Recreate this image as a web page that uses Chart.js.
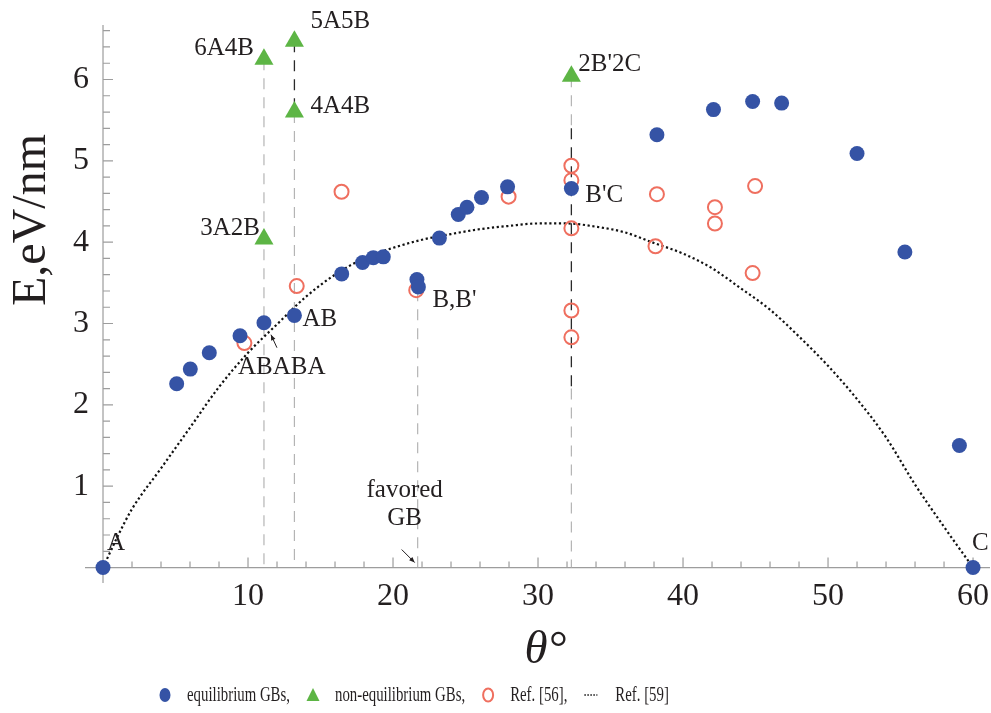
<!DOCTYPE html>
<html>
<head>
<meta charset="utf-8">
<script src="https://cdn.jsdelivr.net/npm/chart.js@4.4.1/dist/chart.umd.min.js"></script>
<style>
  html, body { margin: 0; padding: 0; background: #fff; overflow: hidden; }
  #wrap { width: 991px; height: 713px; position: relative; }
  #gb { display: block; }
</style>
</head>
<body>
<div id="wrap"><canvas id="gb"></canvas></div>
<script>
// misorientation angle (deg) and boundary energy (eV/nm)
const eqTheta  = [0, 5.08, 6.02, 7.33, 9.45, 11.1, 13.2, 16.46, 17.9, 18.64, 19.33, 21.65, 21.75,
                  23.2, 24.5, 25.1, 26.1, 27.9, 32.3, 38.2, 42.1, 44.8, 46.8, 52.0, 55.3, 59.06, 60];
const eqEnergy = [0, 2.26, 2.44, 2.64, 2.85, 3.01, 3.10, 3.61, 3.75, 3.81, 3.82, 3.54, 3.45,
                  4.05, 4.34, 4.43, 4.55, 4.68, 4.66, 5.32, 5.63, 5.73, 5.71, 5.09, 3.88, 1.50, 0];

const neqTheta  = [11.1, 13.2, 13.2, 11.1, 32.3];
const neqEnergy = [6.25, 6.47, 5.60, 4.04, 6.04];

const ref56Theta  = [9.75, 13.36, 16.45, 21.6, 27.97, 32.3, 32.3, 32.3, 32.3, 32.3,
                     38.2, 38.1, 42.2, 42.2, 44.97, 44.8];
const ref56Energy = [2.76, 3.46, 4.62, 3.41, 4.56, 4.94, 4.76, 4.17, 3.16, 2.83,
                     4.59, 3.95, 4.43, 4.23, 4.69, 3.62];

const ref59Theta  = [0, 1, 2, 4, 6, 8, 10, 12, 14, 16, 18, 20, 22, 24, 26, 28, 30,
                     32, 34, 36, 38, 40, 42, 44, 46, 48, 50, 52, 54, 56, 58, 60];
const ref59Energy = [0, 0.38, 0.72, 1.22, 1.72, 2.22, 2.64, 2.99, 3.33, 3.60, 3.80, 3.93, 4.03, 4.10, 4.16, 4.20, 4.23,
                     4.23, 4.19, 4.12, 3.99, 3.86, 3.68, 3.43, 3.17, 2.84, 2.48, 2.07, 1.60, 1.02, 0.50, 0];

const xTicks = [10, 20, 30, 40, 50, 60];
const yTicks = [1, 2, 3, 4, 5, 6];

// vertical guides: [theta, from, to]
const lightGuides = [[11.1, 6.25, 0], [13.2, 5.60, 0], [21.7, 3.41, 0], [32.3, 6.04, 5.4], [32.3, 2.2, 0]];
const darkGuides  = [[13.2, 6.47, 5.60], [32.3, 5.4, 2.2]];

const ink = '#231f20';
const serif = '"Liberation Serif", "Times New Roman", serif';

const pts = (xs, ys) => xs.map((x, i) => ({x: x, y: ys[i]}));
const segs = list => list.flatMap(([t, a, b]) => [{x: t, y: a}, {x: t, y: b}, {x: t, y: null}]);

// text labels next to marked boundaries (anchor in data units, offset in px)
const notes = [
  {t: '6A4B',  at: [11.1, 6.25], dx: -10, dy: -4,  align: 'right'},
  {t: '5A5B',  at: [13.2, 6.47], dx: 16,  dy: -13, align: 'left'},
  {t: '4A4B',  at: [13.2, 5.60], dx: 16,  dy: 1,   align: 'left'},
  {t: '3A2B',  at: [11.1, 4.04], dx: -4,  dy: -4,  align: 'right'},
  {t: "2B'2C", at: [32.3, 6.04], dx: 7,   dy: -5,  align: 'left'},
  {t: 'AB',    at: [13.2, 3.10], dx: 8,   dy: 11,  align: 'left'},
  {t: 'ABABA', at: [11.1, 3.01], dx: -26, dy: 51,  align: 'left'},
  {t: "B,B'",  at: [21.75, 3.45], dx: 14, dy: 20,  align: 'left'},
  {t: "B'C",   at: [32.3, 4.66], dx: 14,  dy: 14,  align: 'left'},
  {t: 'favored', at: [21.7, 0], dx: -13, dy: -71, align: 'center'},
  {t: 'GB',    at: [21.7, 0], dx: -13,  dy: -43,  align: 'center'},
  {t: 'A',     at: [0, 0],    dx: 4,    dy: -18,  align: 'left'},
  {t: 'C',     at: [60, 0],   dx: -1,   dy: -18,  align: 'left'}
];
const arrows = [
  {at: [11.1, 3.01], from: [13, 25], to: [7, 12]},
  {at: [21.7, 0], from: [-16, -18], to: [-3, -5]}
];

const axesPlugin = {
  id: 'crossAxes',
  beforeDatasetsDraw(chart) {
    const {ctx, chartArea: a, scales: {x, y}} = chart;
    const x0 = x.getPixelForValue(0), y0 = y.getPixelForValue(0);
    ctx.save();
    ctx.strokeStyle = '#9d9d9d';
    ctx.lineWidth = 1.2;
    ctx.beginPath();
    ctx.moveTo(x0 - 18, y0); ctx.lineTo(a.right, y0);
    ctx.moveTo(x0, a.bottom); ctx.lineTo(x0, a.top);
    for (let v = 2; v <= x.max; v += 2) {
      const px = x.getPixelForValue(v);
      const len = v % 10 === 0 ? 10 : 6;
      ctx.moveTo(px, y0); ctx.lineTo(px, y0 - len);
    }
    for (let k = 1; k * 0.2 <= y.max; k++) {
      const py = y.getPixelForValue(k * 0.2);
      const len = k % 5 === 0 ? 10 : 7;
      ctx.moveTo(x0, py); ctx.lineTo(x0 + len, py);
    }
    ctx.stroke();
    ctx.restore();
  }
};

const textPlugin = {
  id: 'notes',
  afterDraw(chart) {
    const {ctx, scales: {x, y}} = chart;
    ctx.save();
    ctx.fillStyle = ink;
    ctx.font = '25px ' + serif;
    ctx.textBaseline = 'alphabetic';
    notes.forEach(n => {
      ctx.textAlign = n.align;
      ctx.fillText(n.t, x.getPixelForValue(n.at[0]) + n.dx, y.getPixelForValue(n.at[1]) + n.dy);
    });
    ctx.strokeStyle = ink;
    ctx.lineWidth = 1;
    arrows.forEach(r => {
      const ax = x.getPixelForValue(r.at[0]), ay = y.getPixelForValue(r.at[1]);
      const x1 = ax + r.from[0], y1 = ay + r.from[1], x2 = ax + r.to[0], y2 = ay + r.to[1];
      const ang = Math.atan2(y2 - y1, x2 - x1);
      ctx.beginPath();
      ctx.moveTo(x1, y1); ctx.lineTo(x2, y2);
      ctx.stroke();
      ctx.beginPath();
      ctx.moveTo(x2, y2);
      ctx.lineTo(x2 - 6 * Math.cos(ang - 0.4), y2 - 6 * Math.sin(ang - 0.4));
      ctx.lineTo(x2 - 6 * Math.cos(ang + 0.4), y2 - 6 * Math.sin(ang + 0.4));
      ctx.closePath();
      ctx.fill();
    });

    // y axis title
    ctx.font = '48px ' + serif;
    ctx.textAlign = 'center';
    ctx.translate(45, 220);
    ctx.rotate(-Math.PI / 2);
    ctx.fillText('E,eV/nm', 0, 0);
    ctx.restore();
  }
};

// squeezed legend row under the axis title
const legendPlugin = {
  id: 'rowLegend',
  afterDraw(chart) {
    const {ctx, scales: {x}} = chart;
    const sx = 0.674, cy = 695;
    let cx = x.getPixelForValue(0) + 62;
    ctx.save();
    ctx.font = '22px ' + serif;
    ctx.textBaseline = 'middle';
    ctx.textAlign = 'left';
    chart.data.datasets.filter(d => d.label).forEach(d => {
      let textX = cx + 22;
      ctx.beginPath();
      if (d.showLine) {
        ctx.strokeStyle = d.borderColor;
        ctx.lineWidth = 1.5;
        ctx.setLineDash([1.5, 1.5]);
        ctx.moveTo(cx - 6, cy); ctx.lineTo(cx + 7, cy);
        ctx.stroke();
        ctx.setLineDash([]);
        textX = cx + 25;
      } else if (d.pointStyle === 'triangle') {
        ctx.fillStyle = d.backgroundColor;
        ctx.moveTo(cx, cy - 7); ctx.lineTo(cx + 6.5, cy + 6); ctx.lineTo(cx - 6.5, cy + 6);
        ctx.closePath(); ctx.fill();
      } else if (d.pointBackgroundColor === 'transparent') {
        ctx.strokeStyle = d.pointBorderColor;
        ctx.lineWidth = 2;
        ctx.ellipse(cx, cy, 5, 6.5, 0, 0, Math.PI * 2);
        ctx.stroke();
      } else {
        ctx.fillStyle = d.backgroundColor;
        ctx.ellipse(cx, cy, 5.5, 7, 0, 0, Math.PI * 2);
        ctx.fill();
      }
      ctx.fillStyle = ink;
      ctx.save();
      ctx.translate(textX, cy);
      ctx.scale(sx, 1);
      ctx.fillText(d.label, 0, 0);
      ctx.restore();
      cx = textX + ctx.measureText(d.label).width * sx + 23;
    });
    ctx.restore();
  }
};

const tickFont = {family: serif, size: 32};

new Chart(document.getElementById('gb'), {
  type: 'scatter',
  data: {
    datasets: [
      {
        data: segs(lightGuides), showLine: true, spanGaps: false, pointRadius: 0,
        borderColor: '#b4b4b4', borderWidth: 1.2, borderDash: [11, 8], order: 5
      },
      {
        data: segs(darkGuides), showLine: true, spanGaps: false, pointRadius: 0,
        borderColor: '#2a2a2a', borderWidth: 1.3, borderDash: [11, 8], order: 4
      },
      {
        label: 'equilibrium GBs,', data: pts(eqTheta, eqEnergy),
        pointStyle: 'circle', pointRadius: 7.5, backgroundColor: '#3553a5',
        pointBackgroundColor: '#3553a5', pointBorderWidth: 0, order: 0
      },
      {
        label: 'non-equilibrium GBs,', data: pts(neqTheta, neqEnergy),
        pointStyle: 'triangle', pointRadius: 11, backgroundColor: '#5db545',
        pointBackgroundColor: '#5db545', pointBorderWidth: 0, order: 1
      },
      {
        label: 'Ref. [56],', data: pts(ref56Theta, ref56Energy),
        pointStyle: 'circle', pointRadius: 7, pointBackgroundColor: 'transparent',
        pointBorderColor: '#ef6f5f', pointBorderWidth: 2, order: 2
      },
      {
        label: 'Ref. [59]', data: pts(ref59Theta, ref59Energy),
        showLine: true, cubicInterpolationMode: 'monotone', pointRadius: 0,
        borderColor: '#111', borderWidth: 2.2, borderDash: [2.2, 2.6], order: 3
      }
    ]
  },
  options: {
    responsive: true,
    maintainAspectRatio: false,
    animation: false,
    layout: {autoPadding: false, padding: {top: 25, right: 1, left: 0, bottom: 0}},
    plugins: {legend: {display: false}, tooltip: {enabled: false}},
    scales: {
      x: {
        type: 'linear', min: -0.966, max: 61.17,
        afterBuildTicks: s => { s.ticks = xTicks.map(v => ({value: v})); },
        afterFit: s => { s.height = 130; s.paddingLeft = 0; s.paddingRight = 0; },
        border: {display: false},
        grid: {display: false, drawTicks: false},
        ticks: {font: tickFont, color: ink, padding: -6, maxRotation: 0, autoSkip: false},
        title: {
          display: true, text: '\u2005θ°', color: ink,
          font: {family: serif, size: 47, style: 'italic'},
          padding: {top: 0, bottom: 34}
        }
      },
      y: {
        type: 'linear', min: -0.19, max: 6.67,
        afterBuildTicks: s => { s.ticks = yTicks.map(v => ({value: v})); },
        afterFit: s => { s.width = 89; s.paddingTop = 0; s.paddingBottom = 0; },
        border: {display: false},
        grid: {display: false, drawTicks: false},
        ticks: {font: tickFont, color: ink, padding: 0}
      }
    }
  },
  plugins: [axesPlugin, textPlugin, legendPlugin]
});
</script>
</body>
</html>
